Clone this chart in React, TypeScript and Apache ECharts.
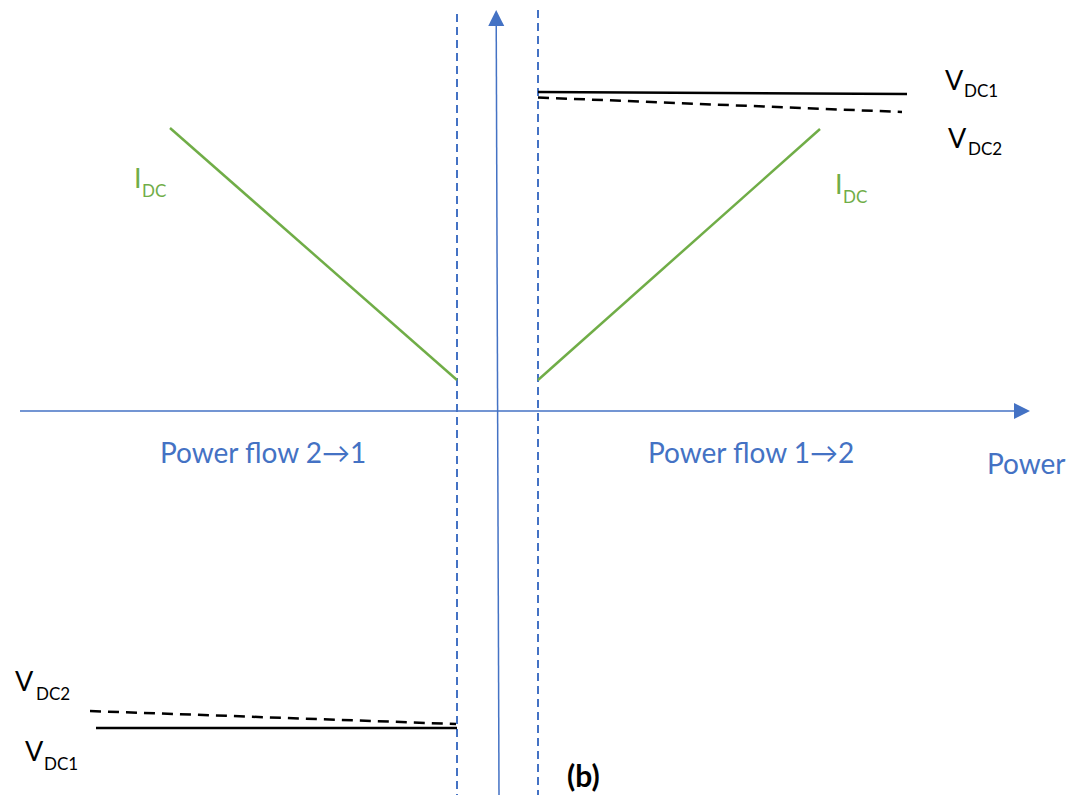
import React, { useEffect, useRef } from "react";
import * as echarts from "echarts";

// Diagram coordinates (x: power direction, y: drawing height, top = 0)
const idcLeft: number[][] = [[170, 128], [457, 380]];
const idcRight: number[][] = [[538, 380], [820, 129]];
const vdc1Right: number[][] = [[538, 92], [907, 94]];
const vdc2Right: number[][] = [[538, 97.5], [902, 112]];
const vdc2Left: number[][] = [[90, 711], [456, 724]];
const vdc1Left: number[][] = [[96, 728], [457, 728]];
const boundLeft: number[][] = [[457, 14], [457, 795]];
const boundRight: number[][] = [[538, 10], [538, 795]];
const powerAxis: number[][] = [[20, 411], [1022, 411]];
const valueAxis: number[][] = [[499, 795], [496.2, 18]];

const BLUE = "#4472C4";
const GREEN = "#70AD47";
const FONT = "Lato, 'Open Sans', sans-serif";

function lineSeries(data: number[][], color: string, width: number, type: any = "solid") {
  return {
    type: "line",
    data,
    showSymbol: false,
    symbol: "none",
    lineStyle: { color, width, type },
    silent: true,
  };
}

function txt(text: string, x: number, y: number, size: number, color: string, bold = false) {
  return {
    type: "text",
    x,
    y,
    silent: true,
    style: {
      text,
      fill: color,
      font: `${bold ? "bold " : ""}${size}px ${FONT}`,
      fontSize: size,
      fontFamily: FONT,
      fontWeight: bold ? "bold" : "normal",
      align: "left",
      verticalAlign: "middle",
      textAlign: "left",
      textVerticalAlign: "middle",
    },
  };
}

export default function App() {
  const ref = useRef<HTMLDivElement>(null);
  useEffect(() => {
    if (!ref.current) return;
    const chart = echarts.init(ref.current, undefined, { renderer: "svg" });
    chart.setOption({
      animation: false,
      backgroundColor: "#ffffff",
      grid: { left: 0, right: 0, top: 0, bottom: 0 },
      xAxis: { type: "value", min: 0, max: 1080, show: false },
      yAxis: { type: "value", min: 0, max: 795, inverse: true, show: false },
      series: [
        lineSeries(boundLeft, BLUE, 2, [8, 5]),
        lineSeries(boundRight, BLUE, 2, [8, 5]),
        {
          type: "lines",
          coordinateSystem: "cartesian2d",
          silent: true,
          symbol: ["none", "triangle"],
          symbolSize: [16, 16],
          lineStyle: { color: BLUE, width: 1.5, opacity: 1 },
          itemStyle: { color: BLUE },
          data: [{ coords: powerAxis }, { coords: valueAxis }],
        },
        lineSeries(idcLeft, GREEN, 2.5),
        lineSeries(idcRight, GREEN, 2.5),
        lineSeries(vdc1Right, "#000000", 2.5),
        lineSeries(vdc2Right, "#000000", 2.5, [11, 7]),
        lineSeries(vdc2Left, "#000000", 2.5, [11, 7]),
        lineSeries(vdc1Left, "#000000", 2.5),
      ],
      graphic: [
        txt("V", 945, 79, 27, "#000"),
        txt("DC1", 964, 90, 17, "#000"),
        txt("V", 948, 137, 27, "#000"),
        txt("DC2", 968, 148, 17, "#000"),
        txt("V", 15, 680, 27, "#000"),
        txt("DC2", 36, 693, 17, "#000"),
        txt("V", 25, 750, 27, "#000"),
        txt("DC1", 44, 763, 17, "#000"),
        txt("I", 134, 177, 27, GREEN),
        txt("DC", 142, 190, 17, GREEN),
        txt("I", 835, 183, 27, GREEN),
        txt("DC", 843, 196, 17, GREEN),
        txt("Power flow 2\u21921", 160, 452, 28, BLUE),
        txt("Power flow 1\u21922", 648, 452, 28, BLUE),
        txt("Power", 987, 463, 28, BLUE),
        txt("(b)", 567, 775, 30, "#000", true),
      ],
    });
    return () => chart.dispose();
  }, []);
  return (
    <div
      ref={ref}
      style={{ position: "fixed", left: 0, top: 0, width: 1080, height: 795, background: "#fff" }}
    />
  );
}
